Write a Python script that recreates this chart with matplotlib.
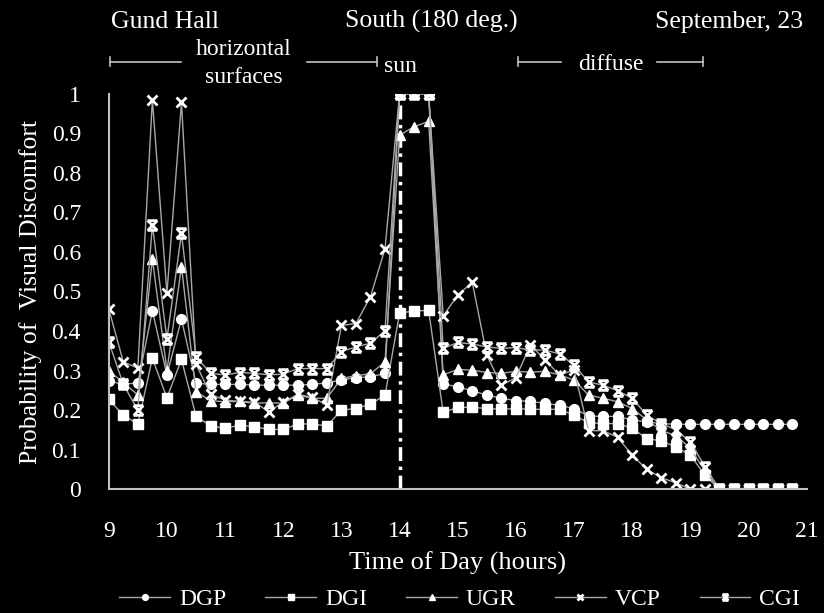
import matplotlib
matplotlib.use("Agg")
import matplotlib.pyplot as plt
from matplotlib.path import Path

# Quarter-hour samples, 9:00 .. 20:45
hours = [9 + 0.25 * i for i in range(48)]

dgp = [0.274, 0.265, 0.269, 0.451, 0.289, 0.430, 0.268, 0.265, 0.265, 0.265,
       0.263, 0.263, 0.263, 0.263, 0.265, 0.269, 0.276, 0.282, 0.284, 0.293,
       1.0, 1.0, 1.0, 0.266, 0.259, 0.249, 0.238, 0.230, 0.224, 0.222,
       0.217, 0.212, 0.204, 0.185, 0.184, 0.184, 0.175, 0.170, 0.166, 0.164,
       0.164, 0.164, 0.164, 0.164, 0.164, 0.164, 0.164, 0.164]
dgi = [0.227, 0.187, 0.165, 0.331, 0.231, 0.328, 0.185, 0.160, 0.154, 0.162,
       0.158, 0.151, 0.151, 0.165, 0.165, 0.160, 0.200, 0.204, 0.215, 0.238,
       0.445, 0.451, 0.452, 0.194, 0.207, 0.207, 0.204, 0.202, 0.204, 0.202,
       0.202, 0.202, 0.187, 0.168, 0.166, 0.166, 0.154, 0.128, 0.122, 0.107,
       0.086, 0.035, 0, 0, 0, 0, 0, 0]
ugr = [0.299, 0.270, 0.238, 0.582, 0.300, 0.563, 0.246, 0.224, 0.221, 0.222,
       0.217, 0.219, 0.217, 0.238, 0.230, 0.230, 0.280, 0.287, 0.292, 0.322,
       0.895, 0.917, 0.930, 0.289, 0.303, 0.301, 0.295, 0.293, 0.298, 0.296,
       0.298, 0.289, 0.276, 0.238, 0.230, 0.221, 0.204, 0.175, 0.149, 0.135,
       0.104, 0.045, 0, 0, 0, 0, 0, 0]
vcp = [0.456, 0.322, 0.306, 0.985, 0.495, 0.978, 0.316, 0.240, 0.225, 0.222,
       0.220, 0.196, 0.220, 0.240, 0.232, 0.213, 0.414, 0.419, 0.487, 0.608,
       1.0, 1.0, 1.0, 0.438, 0.491, 0.523, 0.339, 0.263, 0.282, 0.365,
       0.327, 0.289, 0.301, 0.148, 0.148, 0.131, 0.086, 0.050, 0.029, 0.016,
       0, 0, 0, 0, 0, 0, 0, 0]
cgi = [0.373, 0.265, 0.200, 0.668, 0.380, 0.647, 0.335, 0.293, 0.289, 0.295,
       0.293, 0.289, 0.291, 0.305, 0.305, 0.305, 0.348, 0.360, 0.369, 0.401,
       1.0, 1.0, 1.0, 0.356, 0.371, 0.367, 0.360, 0.356, 0.358, 0.352,
       0.352, 0.342, 0.314, 0.271, 0.263, 0.249, 0.230, 0.187, 0.166, 0.150,
       0.120, 0.057, 0, 0, 0, 0, 0, 0]

series_names = ["DGP", "DGI", "UGR", "VCP", "CGI"]
sun_hour = 14

# "x" with bars on top and bottom for CGI
cgi_marker = Path(
    [(-1, -1), (1, 1), (-1, 1), (1, -1), (-1, 1), (1, 1), (-1, -1), (1, -1)],
    [Path.MOVETO, Path.LINETO] * 4,
)

plt.rcParams["font.family"] = ["Liberation Serif", "DejaVu Serif"]
fg = "white"
line_col = "#a8a8a8"

fig = plt.figure(figsize=(8.24, 6.13), dpi=100, facecolor="black")
ax = fig.add_axes([0.132, 0.202, 0.847, 0.645], facecolor="black")

styles = [
    dict(marker="o", markersize=7),
    dict(marker="s", markersize=7),
    dict(marker="^", markersize=7),
    dict(marker="x", markersize=7, markeredgewidth=2),
    dict(marker=cgi_marker, markersize=7, markeredgewidth=2),
]
handles = []
for name, vals, st in zip(series_names, [dgp, dgi, ugr, vcp, cgi], styles):
    h, = ax.plot(hours, vals, color=line_col, lw=1.0,
                 markerfacecolor=fg, markeredgecolor=fg, label=name, **st)
    handles.append(h)

ax.plot([sun_hour, sun_hour], [0, 1], color=fg, lw=2.5,
        linestyle=(0, (4, 1.6, 1, 1.6)), zorder=1)

ax.set_xlim(9, 21)
ax.set_ylim(0, 1)
ax.set_xticks(range(9, 22))
ax.set_yticks([i / 10 for i in range(11)])
ax.set_yticklabels(["0"] + [f"0.{i}" for i in range(1, 10)] + ["1"])
ax.tick_params(colors=fg, length=0, labelsize=17)
ax.tick_params(axis="x", pad=23)
ax.tick_params(axis="y", pad=20)
for side in ["top", "right"]:
    ax.spines[side].set_visible(False)
for side in ["left", "bottom"]:
    ax.spines[side].set_color("#c0c0c0")
    ax.spines[side].set_linewidth(1.5)

ax.set_xlabel("Time of Day (hours)", color=fg, fontsize=19, labelpad=7)
ax.set_ylabel("Probability of  Visual Discomfort", color=fg, fontsize=18.5,
              labelpad=7)

# header labels above the plot
txt = dict(color=fg, fontsize=18.5, clip_on=False, va="baseline")
ax.text(9.96, 1.167, "Gund Hall", ha="center", **txt)
ax.text(14.54, 1.167, "South (180 deg.)", ha="center", **txt)
ax.text(20.94, 1.167, "September, 23", ha="right", **txt)

small = dict(color=fg, fontsize=17, clip_on=False, va="baseline", ha="center")
ax.text(11.32, 1.097, "horizontal", **small)
ax.text(11.32, 1.028, "surfaces", **small)
ax.text(14.02, 1.056, "sun", **small)
ax.text(17.63, 1.06, "diffuse", **small)

br = dict(color="#c0c0c0", lw=1.2, clip_on=False)
yb = 1.081
for x0, x1 in [(9.02, 10.25), (12.40, 13.62), (16.03, 16.78), (18.43, 19.21)]:
    ax.plot([x0, x1], [yb, yb], **br)
for xc in [9.02, 13.62, 16.03, 19.21]:
    ax.plot([xc, xc], [yb - 0.011, yb + 0.011], **br)

leg = fig.legend(handles=handles, loc="center", bbox_to_anchor=(0.558, 0.022),
                 ncol=5, frameon=False, fontsize=17, markerscale=0.6,
                 handlelength=2.15, columnspacing=1.65, handletextpad=0.38,
                 borderpad=0.1)
for t in leg.get_texts():
    t.set_color(fg)

fig.savefig("out.png", dpi=100, facecolor="black")
